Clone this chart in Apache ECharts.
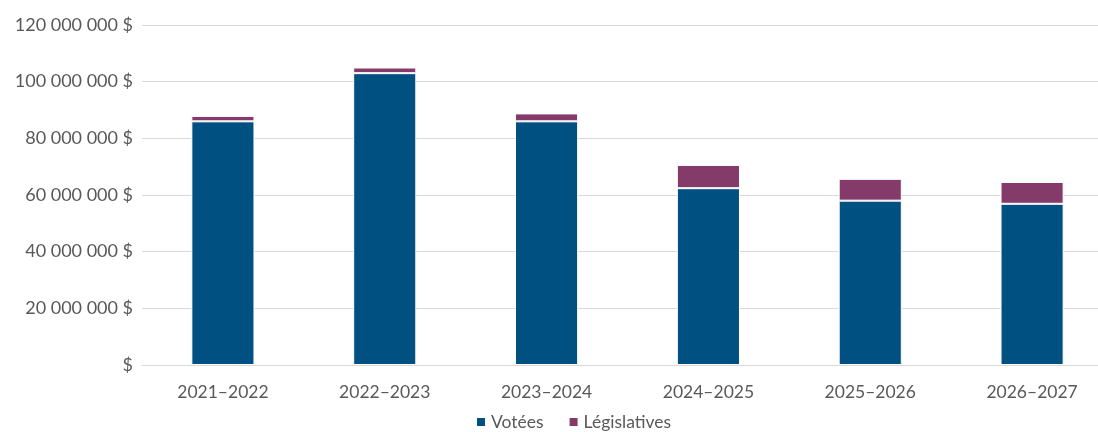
<!DOCTYPE html>
<html>
<head>
<meta charset="utf-8">
<script src="https://cdn.jsdelivr.net/npm/echarts@6/dist/echarts.min.js"></script>
<style>
  html,body{margin:0;padding:0;background:#fff;overflow:hidden;}
  /* le graphique original est rogné à droite */
  #chart{width:1114px;height:432px;}
</style>
</head>
<body>
<div id="chart"></div>
<script>
// exercices financiers
const categories = ['2021\u20132022','2022\u20132023','2023\u20132024','2024\u20132025','2025\u20132026','2026\u20132027'];
// dépenses votées ($)
const votees = [86000000, 103000000, 86000000, 62400000, 58000000, 56900000];
// dépenses législatives ($)
const legislatives = [1900000, 2000000, 2800000, 8200000, 7700000, 7700000];

const fontFamily = 'Lato, "Open Sans", sans-serif';
const textColor = '#595959';

function fmtDollars(v){
    if(v===0) return '$';
    return String(v).replace(/\B(?=(\d{3})+(?!\d))/g,' ')+' $';
}

const chart = echarts.init(document.getElementById('chart'));
chart.setOption({
    animation:false,
    color:['#005081','#843B69'],
    grid:{left:142,right:1,top:25,bottom:67,containLabel:false},
    legend:{
        top:408,
        left:470,
        icon:'rect',
        itemWidth:10,
        itemHeight:10,
        itemGap:24,
        textStyle:{color:textColor,fontSize:17.5,fontFamily:fontFamily},
        data:['Votées','Législatives']
    },
    xAxis:{
        type:'category',
        data:categories,
        axisLine:{lineStyle:{color:'#d9d9d9'}},
        axisTick:{show:false},
        axisLabel:{color:textColor,fontSize:17.5,fontFamily:fontFamily,margin:18}
    },
    yAxis:{
        type:'value',
        min:0,
        max:120000000,
        interval:20000000,
        axisLine:{show:false},
        axisTick:{show:false},
        splitLine:{lineStyle:{color:'#d9d9d9'}},
        axisLabel:{color:textColor,fontSize:18,fontFamily:fontFamily,margin:9,formatter:fmtDollars}
    },
    series:[
        {name:'Votées',type:'bar',stack:'total',data:votees,barWidth:'39%',
            itemStyle:{borderColor:'#fff',borderWidth:1}},
        {name:'Législatives',type:'bar',stack:'total',data:legislatives,barWidth:'39%',
            itemStyle:{borderColor:'#fff',borderWidth:1}}
    ]
});
</script>
</body>
</html>
